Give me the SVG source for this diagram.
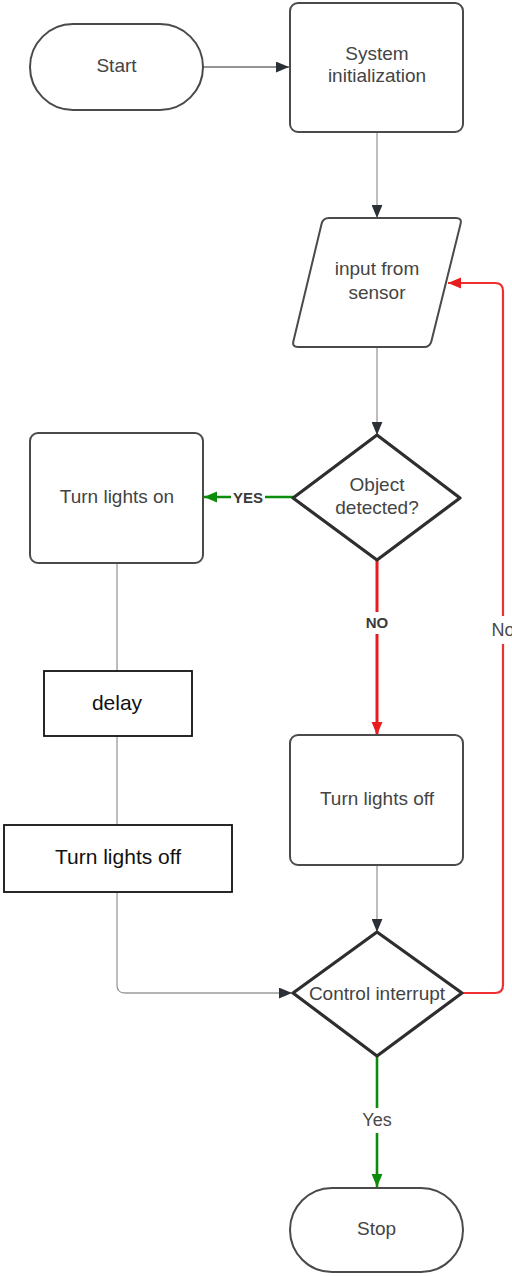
<svg xmlns="http://www.w3.org/2000/svg" width="512" height="1276" viewBox="0 0 512 1276">
  <style>
    .shape { fill: #ffffff; stroke: #4a4a4a; stroke-width: 2; }
    .dia { fill: #ffffff; stroke: #2e2e2e; stroke-width: 3.2; stroke-linejoin: round; }
    .plain { fill: #ffffff; stroke: #111111; stroke-width: 1.8; }
    .t { font-family: "Liberation Sans", Arial, sans-serif; font-size: 19px; fill: #444444; text-anchor: middle; }
    .tb { font-family: "Liberation Sans", Arial, sans-serif; font-size: 21px; fill: #111111; text-anchor: middle; }
    .lbl { font-family: "Liberation Sans", Arial, sans-serif; font-size: 15px; font-weight: bold; fill: #3a3a3a; text-anchor: middle; }
    .lbln { font-family: "Liberation Sans", Arial, sans-serif; font-size: 18px; fill: #4a4a4a; text-anchor: middle; }
    .thin { fill: none; stroke: #9a9a9a; stroke-width: 1.3; }
    .dark { fill: none; stroke: #707070; stroke-width: 1.3; }
    .green { fill: none; stroke: #0b8c0b; stroke-width: 2.6; }
    .red { fill: none; stroke: #e81c1c; stroke-width: 3; }
    .redthin { fill: none; stroke: #ee3030; stroke-width: 2.2; }
  </style>
  <defs>
    <marker id="ahDark" viewBox="0 0 12 10" refX="12" refY="5" markerWidth="13" markerHeight="11" markerUnits="userSpaceOnUse" orient="auto">
      <path d="M0,0 L12,5 L0,10 Z" fill="#2b2f36"/>
    </marker>
    <marker id="ahGreen" viewBox="0 0 12 10" refX="12" refY="5" markerWidth="13" markerHeight="12" markerUnits="userSpaceOnUse" orient="auto">
      <path d="M0,0 L12,5 L0,10 Z" fill="#0b8c0b"/>
    </marker>
    <marker id="ahRed" viewBox="0 0 12 10" refX="12" refY="5" markerWidth="13" markerHeight="12" markerUnits="userSpaceOnUse" orient="auto">
      <path d="M0,0 L12,5 L0,10 Z" fill="#e81c1c"/>
    </marker>
  </defs>

  <!-- connectors -->
  <g id="connectors">
    <path class="dark" d="M203,67 H289" marker-end="url(#ahDark)"/>
    <path class="thin" d="M377,133 V218" marker-end="url(#ahDark)"/>
    <path class="thin" d="M377,347 V435" marker-end="url(#ahDark)"/>
    <path class="green" d="M293,497 H204" marker-end="url(#ahGreen)"/>
    <path class="red" d="M377,560 V735" marker-end="url(#ahRed)"/>
    <path class="thin" d="M117,563 V671"/>
    <path class="thin" d="M117,736 V825"/>
    <path class="thin" d="M117,892 V985 Q117,993 125,993 H292" marker-end="url(#ahDark)"/>
    <path class="thin" d="M377,865 V932" marker-end="url(#ahDark)"/>
    <path class="green" d="M377,1057 V1187" marker-end="url(#ahGreen)"/>
    <path class="redthin" d="M462,993 H495 Q503,993 503,985 V291 Q503,283 495,283 H448" marker-end="url(#ahRed)"/>

    <!-- connector labels -->
    <rect x="231" y="488" width="34" height="17" fill="#ffffff"/>
    <text class="lbl" x="248" y="502.5">YES</text>
    <rect x="362" y="612" width="30" height="22" fill="#ffffff"/>
    <text class="lbl" x="377" y="628">NO</text>
    <rect x="360" y="1108" width="34" height="25" fill="#ffffff"/>
    <text class="lbln" x="377" y="1126">Yes</text>
    <rect x="489" y="616" width="30" height="28" fill="#ffffff"/>
    <text class="lbln" x="503" y="636">No</text>
  </g>

  <g id="start">
    <rect class="shape" x="30" y="24" width="173" height="86" rx="43"/>
    <text class="t" x="116.5" y="72">Start</text>
  </g>

  <g id="system-init">
    <rect class="shape" x="290" y="3" width="173" height="129" rx="8"/>
    <text class="t" x="377" y="60">System</text>
    <text class="t" x="377" y="82">initialization</text>
  </g>

  <g id="input-sensor">
    <path class="shape" d="M329,218 L456,218 Q462,218 460.6,223.8 L431.4,341.2 Q430,347 424,347 L298,347 Q292,347 293.4,341.2 L321.6,223.8 Q323,218 329,218 Z"/>
    <text class="t" x="377" y="275">input from</text>
    <text class="t" x="377" y="299">sensor</text>
  </g>

  <g id="object-detected">
    <path class="dia" d="M377,435 L460,498 L377,560 L293,498 Z"/>
    <text class="t" x="377" y="491">Object</text>
    <text class="t" x="377" y="514">detected?</text>
  </g>

  <g id="lights-on">
    <rect class="shape" x="30" y="433" width="173" height="130" rx="8"/>
    <text class="t" x="117" y="503">Turn lights on</text>
  </g>

  <g id="delay">
    <rect class="plain" x="44" y="671" width="148" height="65"/>
    <text class="tb" x="117" y="710">delay</text>
  </g>

  <g id="lights-off-left">
    <rect class="plain" x="4" y="825" width="228" height="67"/>
    <text class="tb" x="118" y="864">Turn lights off</text>
  </g>

  <g id="lights-off-right">
    <rect class="shape" x="290" y="735" width="173" height="130" rx="8"/>
    <text class="t" x="377" y="805">Turn lights off</text>
  </g>

  <g id="control-interrupt">
    <path class="dia" d="M377,932 L462,993 L377,1056 L293,993 Z"/>
    <text class="t" x="377" y="1000">Control interrupt</text>
  </g>

  <g id="stop">
    <rect class="shape" x="290" y="1188" width="173" height="84" rx="42"/>
    <text class="t" x="376.5" y="1235">Stop</text>
  </g>
</svg>
